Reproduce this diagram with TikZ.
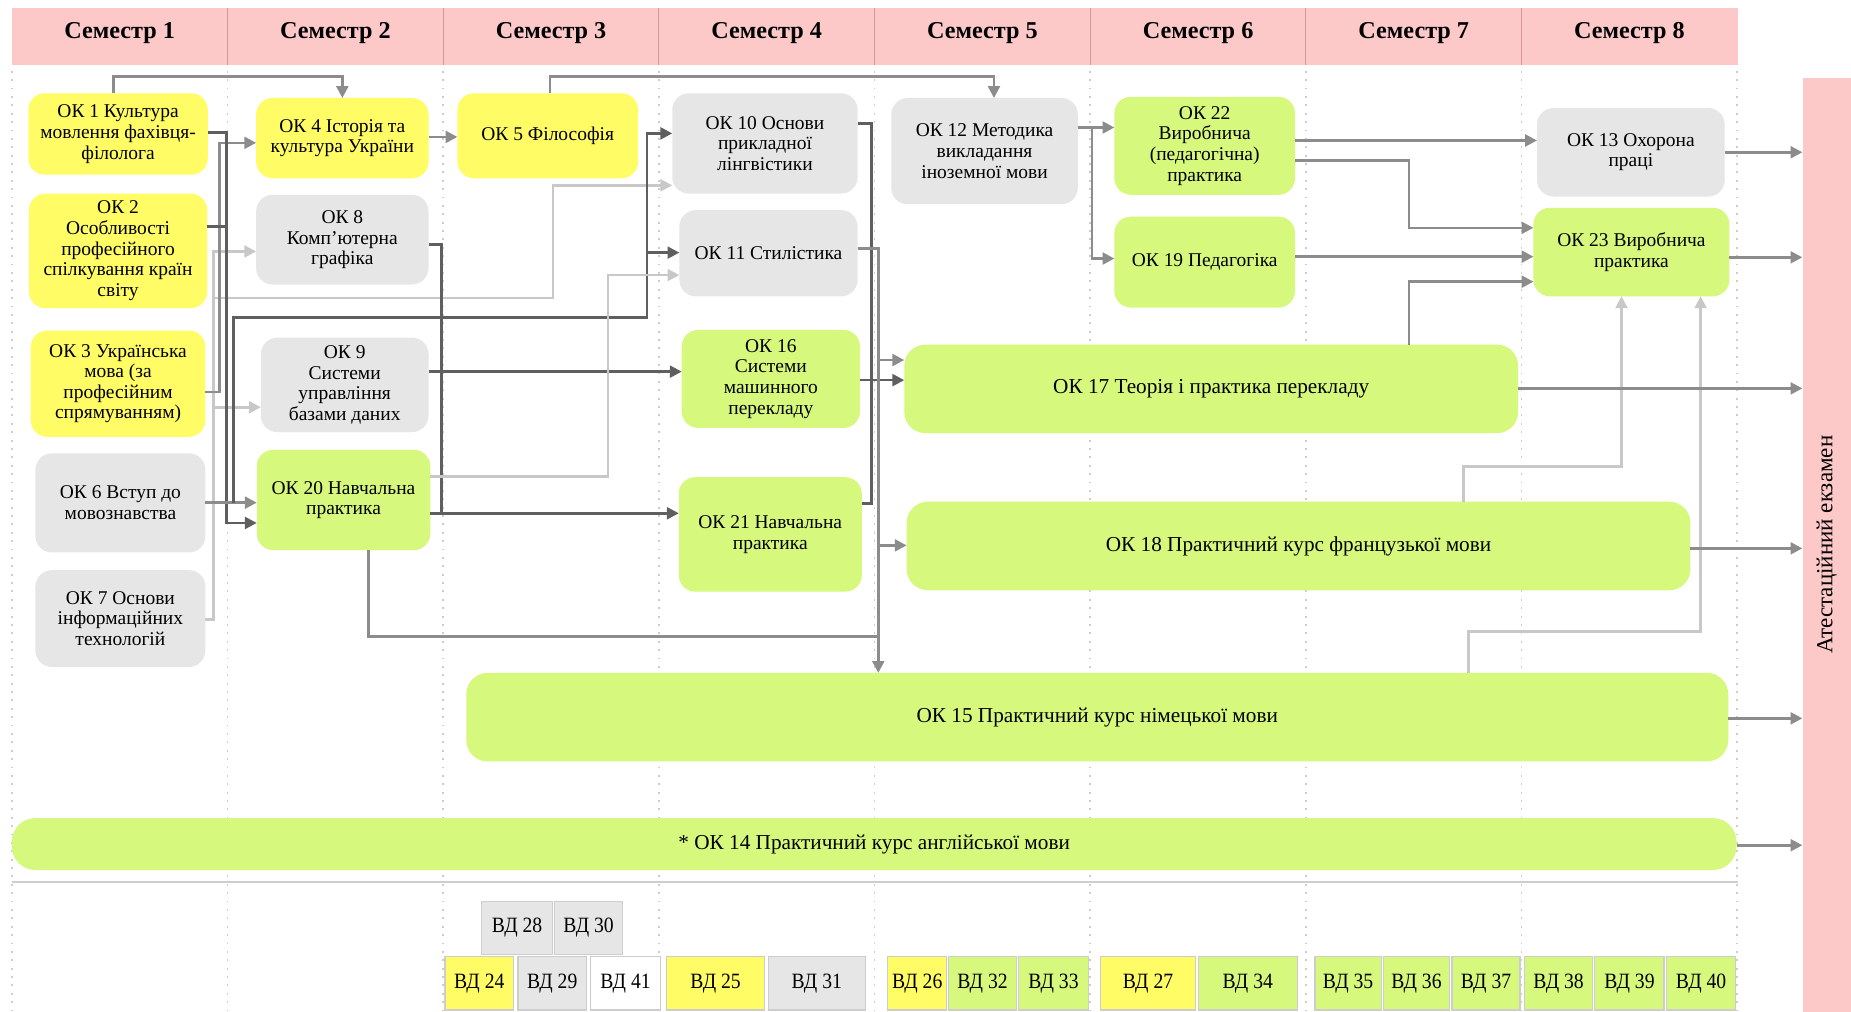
\documentclass[tikz,border=0pt]{standalone}
\usepackage{fontspec}
\setmainfont{Liberation Serif}
\newfontfamily\vdfont[FakeStretch=0.9]{Liberation Serif}
\usetikzlibrary{arrows.meta}

\definecolor{headpink}{RGB}{252,200,200}
\definecolor{headline}{RGB}{215,150,150}
\definecolor{boxyellow}{RGB}{255,252,102}
\definecolor{boxgreen}{RGB}{214,248,124}
\definecolor{boxgrey}{RGB}{230,230,230}
\definecolor{arrdark}{RGB}{95,95,95}
\definecolor{arrmid}{RGB}{140,140,140}
\definecolor{arrlight}{RGB}{200,200,200}
\definecolor{dotgrey}{RGB}{205,205,205}
\definecolor{vdedge}{RGB}{205,205,205}

\begin{document}
\begin{tikzpicture}[x=1pt, y=-1pt,
    >={Triangle[length=10pt,width=10pt]},
    semhead/.style={font=\fontsize{20.5}{22}\selectfont\bfseries},
    course/.style={rounded corners=14pt, align=center, inner sep=2pt, outer sep=0pt,
      font=\fontsize{16.5}{17.5}\selectfont},
    cyellow/.style={course, fill=boxyellow},
    cgreen/.style={course, fill=boxgreen},
    cgrey/.style={course, fill=boxgrey},
    cbar/.style={cgreen, rounded corners=18pt, minimum height=75pt, font=\fontsize{18}{20}\selectfont},
    vdbox/.style={draw=vdedge, line width=1pt, inner sep=0pt, minimum height=45pt,
      font=\vdfont\fontsize{18.5}{20}\selectfont},
    colsep/.style={dotgrey, line width=1.6pt, dash pattern=on 1.6pt off 5.5pt},
    dk/.style={draw=arrdark, line width=2.2pt},
    md/.style={draw=arrmid, line width=2.2pt},
    lt/.style={draw=arrlight, line width=2.2pt}]

    % page size and white background
    \useasboundingbox (0,0) rectangle (1568,857);
    \fill[white] (0,0) rectangle (1568,857);

    % Header band with the eight semesters
    \fill[headpink] (10,7) rectangle (1472,55);
    \draw[headline, line width=0.8pt] (192.7,7) -- (192.7,55);
    \draw[headline, line width=0.8pt] (375.4,7) -- (375.4,55);
    \draw[headline, line width=0.8pt] (558.1,7) -- (558.1,55);
    \draw[headline, line width=0.8pt] (740.8,7) -- (740.8,55);
    \draw[headline, line width=0.8pt] (923.5,7) -- (923.5,55);
    \draw[headline, line width=0.8pt] (1106.2,7) -- (1106.2,55);
    \draw[headline, line width=0.8pt] (1288.9,7) -- (1288.9,55);
    \node[semhead] (sem1) at (101.4,28) {Семестр 1};
    \node[semhead] (sem2) at (284.1,28) {Семестр 2};
    \node[semhead] (sem3) at (466.8,28) {Семестр 3};
    \node[semhead] (sem4) at (649.5,28) {Семестр 4};
    \node[semhead] (sem5) at (832.2,28) {Семестр 5};
    \node[semhead] (sem6) at (1014.9,28) {Семестр 6};
    \node[semhead] (sem7) at (1197.6,28) {Семестр 7};
    \node[semhead] (sem8) at (1380.3,28) {Семестр 8};

    % Dotted column borders below the header
    \draw[colsep] (10,60) -- (10,857);
    \draw[colsep] (192.7,60) -- (192.7,857);
    \draw[colsep] (375.4,60) -- (375.4,857);
    \draw[colsep] (558.1,60) -- (558.1,857);
    \draw[colsep] (740.8,60) -- (740.8,857);
    \draw[colsep] (923.5,60) -- (923.5,857);
    \draw[colsep] (1106.2,60) -- (1106.2,857);
    \draw[colsep] (1288.9,60) -- (1288.9,857);
    \draw[colsep] (1471.6,60) -- (1471.6,857);

    % Line above the elective block
    \draw[dotgrey, line width=1.4pt] (10,747) -- (1472,747);

    % Semester 1
    \node[cyellow, minimum width=152pt, minimum height=69pt] (ok1) at (100,113.5)
      {ОК 1 Культура\\мовлення фахівця-\\філолога};
    \node[cyellow, minimum width=151pt, minimum height=97pt] (ok2) at (100,212.5)
      {ОК 2\\Особливості\\професійного\\спілкування країн\\світу};
    \node[cyellow, minimum width=148pt, minimum height=90pt] (ok3) at (100,325)
      {ОК 3 Українська\\мова (за\\професійним\\спрямуванням)};
    \node[cgrey, minimum width=144pt, minimum height=84pt] (ok6) at (102,426)
      {ОК 6 Вступ до\\мовознавства};
    \node[cgrey, minimum width=144pt, minimum height=82pt] (ok7) at (102,524)
      {ОК 7 Основи\\інформаційних\\технологій};

    % Semester 2
    \node[cyellow, minimum width=146pt, minimum height=68pt] (ok4) at (290,117)
      {ОК 4 Історія та\\культура України};
    \node[cgrey, minimum width=146pt, minimum height=76pt] (ok8) at (290,203)
      {ОК 8\\Комп'ютерна\\графіка};
    \node[cgrey, minimum width=142pt, minimum height=80pt] (ok9) at (292,326)
      {ОК 9\\Системи\\управління\\базами даних};
    \node[cgreen, minimum width=147pt, minimum height=85pt] (ok20) at (291,423.5)
      {ОК 20 Навчальна\\практика};

    % Semester 3
    \node[cyellow, minimum width=153pt, minimum height=72pt] (ok5) at (464,115)
      {ОК 5 Філософія};

    % Semester 4
    \node[cgrey, minimum width=157pt, minimum height=85pt] (ok10) at (648,121.5)
      {ОК 10 Основи\\прикладної\\лінгвістики};
    \node[cgrey, minimum width=151pt, minimum height=73pt] (ok11) at (651,214.5)
      {ОК 11 Стилістика};
    \node[cgreen, minimum width=151pt, minimum height=83pt] (ok16) at (653,321)
      {ОК 16\\Системи\\машинного\\перекладу};
    \node[cgreen, minimum width=155pt, minimum height=97pt] (ok21) at (652.5,452.7)
      {ОК 21 Навчальна\\практика};

    % Semester 5 and 6
    \node[cgrey, minimum width=158pt, minimum height=90pt] (ok12) at (834,128)
      {ОК 12 Методика\\викладання\\іноземної мови};
    \node[cgreen, minimum width=153pt, minimum height=83pt] (ok22) at (1020.5,123.5)
      {ОК 22\\Виробнича\\(педагогічна)\\практика};
    \node[cgreen, minimum width=153pt, minimum height=77pt] (ok19) at (1020.5,222)
      {ОК 19 Педагогіка};

    % Semester 8
    \node[cgrey, minimum width=159pt, minimum height=75pt] (ok13) at (1381.5,129)
      {ОК 13 Охорона\\праці};
    \node[cgreen, minimum width=166pt, minimum height=75pt] (ok23) at (1382,213.5)
      {ОК 23 Виробнича\\практика};

    % Courses that run over several semesters
    \node[cbar, minimum width=520pt] (ok17) at (1026,329.4)
      {ОК 17 Теорія і практика перекладу};
    \node[cbar, minimum width=664pt] (ok18) at (1100,462.5)
      {ОК 18 Практичний курс французької мови};
    \node[cbar, minimum width=1069pt] (ok15) at (929.5,607.5)
      {ОК 15 Практичний курс німецької мови};
    \node[cbar, rounded corners=20pt, minimum width=1461pt, minimum height=44pt] (ok14) at (740.5,715)
      {* ОК 14 Практичний курс англійської мови};

    % Final exam bar on the right
    \node[fill=headpink, inner sep=0pt, minimum width=41pt, minimum height=791pt] (exam) at (1547.5,461.5)
      {\rotatebox{90}{\fontsize{19.5}{21}\selectfont Атестаційний екзамен}};

    % Elective courses, upper row
    \node[vdbox, fill=boxgrey, minimum width=60pt] (vd28) at (438,786) {ВД 28};
    \node[vdbox, fill=boxgrey, minimum width=58pt] (vd30) at (498.6,786) {ВД 30};

    % Elective courses, lower row
    \node[vdbox, fill=boxyellow, minimum width=58pt] (vd24) at (406,833) {ВД 24};
    \node[vdbox, fill=boxgrey, minimum width=58pt] (vd29) at (467.8,833) {ВД 29};
    \node[vdbox, fill=white, minimum width=59pt] (vd41) at (529.9,833) {ВД 41};
    \node[vdbox, fill=boxyellow, minimum width=83pt] (vd25) at (606.2,833) {ВД 25};
    \node[vdbox, fill=boxgrey, minimum width=82pt] (vd31) at (691.9,833) {ВД 31};
    \node[vdbox, fill=boxyellow, minimum width=50pt] (vd26) at (777,833) {ВД 26};
    \node[vdbox, fill=boxgreen, minimum width=57.5pt] (vd32) at (832.3,833) {ВД 32};
    \node[vdbox, fill=boxgreen, minimum width=58.7pt] (vd33) at (892.4,833) {ВД 33};
    \node[vdbox, fill=boxyellow, minimum width=81pt] (vd27) at (972.5,833) {ВД 27};
    \node[vdbox, fill=boxgreen, minimum width=84pt] (vd34) at (1057,833) {ВД 34};
    \node[vdbox, fill=boxgreen, minimum width=56pt] (vd35) at (1142,833) {ВД 35};
    \node[vdbox, fill=boxgreen, minimum width=56.3pt] (vd36) at (1199.9,833) {ВД 36};
    \node[vdbox, fill=boxgreen, minimum width=57.6pt] (vd37) at (1258.8,833) {ВД 37};
    \node[vdbox, fill=boxgreen, minimum width=57.4pt] (vd38) at (1320.3,833) {ВД 38};
    \node[vdbox, fill=boxgreen, minimum width=58.6pt] (vd39) at (1380.3,833) {ВД 39};
    \node[vdbox, fill=boxgreen, minimum width=58pt] (vd40) at (1441,833) {ВД 40};

    % Connectors over the top
    \draw[md, ->] (ok1.north -| 96,0) -- (96,65) -| (ok4.north);
    \draw[md, ->] (ok5.north -| 466,0) -- (466,65) -| ([xshift=8pt]ok12.north);
    \draw[md, ->] (ok4.east |- 0,116) -- (ok5.west |- 0,116);

    % Semester 1 buses
    \draw[lt, ->] (ok7.east |- 0,525) -- (181,525) -- (181,213) -- (ok8.west |- 0,213);
    \draw[lt, ->] (181,345) -- (ok9.west |- 0,345);
    \draw[lt, ->] (181,252.6) -- (468.6,252.6) -- (468.6,157) -- (ok10.west |- 0,157);
    \draw[md, ->] (ok3.east |- 0,332) -- (186,332) -- (186,121) -- (ok4.west |- 0,121);
    \draw[dk, ->] (ok1.east |- 0,112) -- (192,112) -- (192,443) -- (ok20.west |- 0,443);
    \draw[dk] (ok2.east |- 0,192) -- (192,192);
    \draw[md, ->] (ok6.east |- 0,425.8) -- (ok20.west |- 0,425.8);
    \draw[dk, ->] (198,425.8) -- (198,269) -- (548,269) -- (548,113) -- (ok10.west |- 0,113);
    \draw[dk, ->] (548,214) -- (ok11.west |- 0,214);

    % Semester 2 outputs
    \draw[dk] (ok8.east |- 0,207) -- (374,207) -- (374,434.8);
    \draw[dk, ->] (ok20.east |- 0,434.8) -- (ok21.west |- 0,434.8);
    \draw[dk, ->] (ok9.east |- 0,314.8) -- (ok16.west |- 0,314.8);
    \draw[lt, ->] (ok20.east |- 0,403.8) -- (515,403.8) -- (515,233) -- (ok11.west |- 0,233);
    \draw[md] (ok20.south -| 312,0) -- (312,539) -- (744,539);

    % Semester 4 outputs
    \draw[dk] (ok10.east |- 0,104.5) -- (738.4,104.5) -- (738.4,322);
    \draw[dk] (ok21.east |- 0,426.4) -- (738.4,426.4) -- (738.4,322);
    \draw[dk, ->] (ok16.east |- 0,322) -- (ok17.west |- 0,322);
    \draw[md, ->] (ok11.east |- 0,210.3) -- (744,210.3) -- (ok15.north -| 744,0);
    \draw[md, ->] (744,305) -- (ok17.west |- 0,305);
    \draw[md, ->] (744,462) -- (ok18.west |- 0,462);

    % Semester 5 and 6 outputs
    \draw[md, ->] (ok12.east |- 0,108) -- (ok22.west |- 0,108);
    \draw[md, ->] (925,108) -- (925,219) -- (ok19.west |- 0,219);
    \draw[md, ->] (ok22.east |- 0,119) -- (ok13.west |- 0,119);
    \draw[md, ->] (ok22.east |- 0,136) -- (1193.6,136) -- (1193.6,193) -- (ok23.west |- 0,193);
    \draw[md, ->] (ok19.east |- 0,217.4) -- (ok23.west |- 0,217.4);
    \draw[md, ->] (ok17.north -| 1193.6,0) -- (1193.6,238.6) -- (ok23.west |- 0,238.6);
    \draw[lt, ->] (ok18.north -| 1239.7,0) -- (1239.7,395) -- (1373.6,395) -- (ok23.south -| 1373.6,0);
    \draw[lt, ->] (ok15.north -| 1244,0) -- (1244,535) -- (1440.6,535) -- (ok23.south -| 1440.6,0);

    % Arrows into the final exam
    \draw[md, ->] (ok13.east |- 0,129) -- (exam.west |- 0,129);
    \draw[md, ->] (ok23.east |- 0,218) -- (exam.west |- 0,218);
    \draw[md, ->] (ok17.east |- 0,329) -- (exam.west |- 0,329);
    \draw[md, ->] (ok18.east |- 0,464.5) -- (exam.west |- 0,464.5);
    \draw[md, ->] (ok15.east |- 0,608.5) -- (exam.west |- 0,608.5);
    \draw[md, ->] (ok14.east |- 0,716) -- (exam.west |- 0,716);

\end{tikzpicture}
\end{document}
